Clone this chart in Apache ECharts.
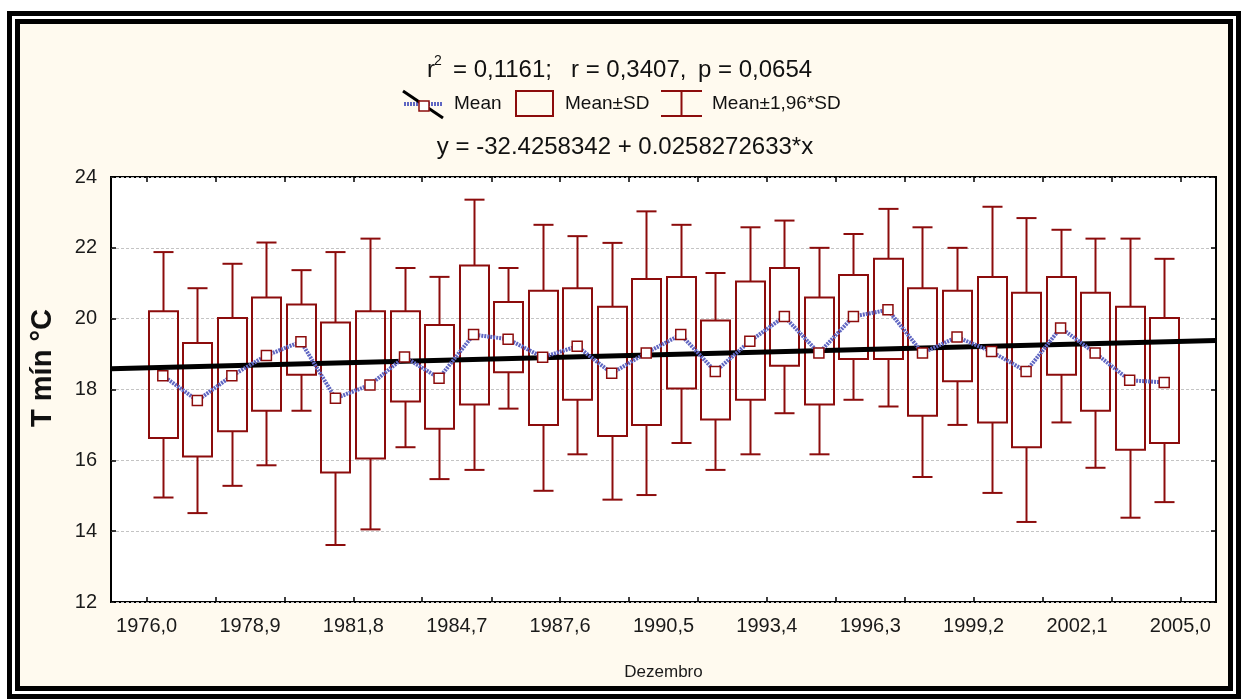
<!DOCTYPE html>
<html>
<head>
<meta charset="utf-8">
<script src="https://cdn.jsdelivr.net/npm/echarts@6/dist/echarts.min.js"></script>
<style>
  html, body { margin: 0; padding: 0; background: #fff; }
  #frame { position: absolute; left: 7px; top: 11px; width: 1234px; height: 688px; box-sizing: border-box; border: 5px solid #000; padding: 3px; background: #fff; }
  #inner { width: 100%; height: 100%; box-sizing: border-box; border: 5px solid #000; background: #fffaef; }
  #chart { position: absolute; left: 0; top: 0; width: 1243px; height: 700px; }
</style>
</head>
<body>
<div id="frame"><div id="inner"></div></div>
<div id="chart"></div>
<script>
// Dezembro, T mín por ano
const years = [1976, 1977, 1978, 1979, 1980, 1981, 1982, 1983, 1984, 1985,
  1986, 1987, 1988, 1989, 1990, 1991, 1992, 1993, 1994, 1995,
  1996, 1997, 1998, 1999, 2000, 2001, 2002, 2003, 2004, 2005];
// Mean+1,96*SD
const whiskerHigh = [21.88, 20.86, 21.55, 22.15, 21.37, 21.88, 22.26, 21.43, 21.18, 23.36,
  21.43, 22.65, 22.33, 22.14, 23.03, 22.65, 21.29, 22.58, 22.77, 22.00,
  22.39, 23.10, 22.58, 22.00, 23.16, 22.84, 22.51, 22.26, 22.26, 21.69];
// Mean+SD
const boxHigh = [20.21, 19.31, 20.02, 20.60, 20.40, 19.89, 20.21, 20.21, 19.82, 21.50,
  20.47, 20.79, 20.86, 20.34, 21.12, 21.18, 19.95, 21.05, 21.43, 20.60,
  21.23, 21.69, 20.86, 20.79, 21.18, 20.73, 21.18, 20.73, 20.34, 20.02];
// Mean
const means = [18.39, 17.69, 18.39, 18.96, 19.35, 17.75, 18.13, 18.92, 18.32, 19.55,
  19.42, 18.91, 19.22, 18.46, 19.03, 19.55, 18.51, 19.36, 20.06, 19.03,
  20.06, 20.25, 19.03, 19.48, 19.07, 18.51, 19.74, 19.03, 18.26, 18.20];
// Mean-SD
const boxLow = [16.63, 16.11, 16.82, 17.40, 18.42, 15.66, 16.05, 17.66, 16.89, 17.58,
  18.49, 17.00, 17.71, 16.69, 17.00, 18.03, 17.15, 17.71, 18.67, 17.58,
  18.86, 18.86, 17.26, 18.23, 17.07, 16.37, 18.42, 17.40, 16.30, 16.49];
// Mean-1,96*SD
const whiskerLow = [14.95, 14.51, 15.28, 15.86, 17.40, 13.61, 14.05, 16.37, 15.47, 15.73,
  17.46, 15.14, 16.17, 14.89, 15.02, 16.49, 15.73, 16.17, 17.33, 16.17,
  17.71, 17.52, 15.53, 17.00, 15.08, 14.26, 17.07, 15.79, 14.38, 14.82];

// eixo x numérico
const xLabelValues = [1976.0, 1978.9, 1981.8, 1984.7, 1987.6, 1990.5, 1993.4, 1996.3, 1999.2, 2002.1, 2005.0];
const xTickValues = [1976, 1977.93, 1979.87, 1981.8, 1983.73, 1985.67, 1987.6, 1989.53,
  1991.47, 1993.4, 1995.33, 1997.27, 1999.2, 2001.13, 2003.07, 2005];
const xMin = 1975, xMax = 2006;

// regressão y = a + b*x
const regIntercept = -32.4258342;
const regSlope = 0.0258272633;

const boxColor = "#8c0c0c";
const meanColor = "#5f66c2";
const sansFont = "'Liberation Sans', Arial, sans-serif";

// categorias para as caixas (uma vaga vazia em cada ponta)
const categories = ["", ...years.map(String), ""];
const boxData = years.map((y, i) => [i + 1, whiskerLow[i], boxLow[i], means[i], boxHigh[i], whiskerHigh[i]]);
const meanData = years.map((y, i) => [i + 1, means[i]]);
const regData = [xMin, xMax].map(x => [x, regIntercept + regSlope * x]);

const chart = echarts.init(document.getElementById("chart"));

/** desenha caixa + bigodes */
const renderBox = (params, api) => {
  const x = api.value(0);
  const band = api.size([1, 0])[0];
  const bw = band * 0.84;
  const cw = band * 0.58;
  const pWb = api.coord([x, api.value(1)]);
  const pBb = api.coord([x, api.value(2)]);
  const pBt = api.coord([x, api.value(4)]);
  const pWt = api.coord([x, api.value(5)]);
  const cx = Math.round(pWt[0]) + 0.5;
  const style = { stroke: boxColor, lineWidth: 2, fill: null };
  return {
    type: "group",
    children: [
      { type: "line", shape: { x1: cx, y1: pWt[1], x2: cx, y2: pBt[1] }, style },
      { type: "line", shape: { x1: cx, y1: pBb[1], x2: cx, y2: pWb[1] }, style },
      { type: "line", shape: { x1: cx - cw / 2, y1: pWt[1], x2: cx + cw / 2, y2: pWt[1] }, style },
      { type: "line", shape: { x1: cx - cw / 2, y1: pWb[1], x2: cx + cw / 2, y2: pWb[1] }, style },
      { type: "rect", shape: { x: cx - bw / 2, y: pBt[1], width: bw, height: pBb[1] - pBt[1] }, style }
    ]
  };
};

const txt = (x, y, text, size, extra) => ({
  type: "text", x, y,
  style: Object.assign({ text, fontSize: size, fontFamily: sansFont, fill: "#111", align: "left", verticalAlign: "middle" }, extra || {})
});

const option = {
  animation: false,
  backgroundColor: "transparent",
  grid: {
    left: 111, right: 27, top: 177, bottom: 98,
    show: true, backgroundColor: "#fff", borderColor: "#000", borderWidth: 2
  },
  xAxis: [
    {
      type: "value", min: xMin, max: xMax, position: "bottom",
      axisLine: { show: false },
      axisTick: { inside: true, length: 5, customValues: xTickValues, lineStyle: { color: "#000", width: 1.5 } },
      axisLabel: {
        customValues: xLabelValues, margin: 14, fontSize: 20, fontFamily: sansFont, color: "#1a1a1a",
        formatter: v => v.toFixed(1).replace(".", ",")
      },
      splitLine: { show: false },
      name: "Dezembro", nameLocation: "middle", nameGap: 62,
      nameTextStyle: { fontSize: 17, fontFamily: sansFont, color: "#1a1a1a", verticalAlign: "top" }
    },
    {
      type: "value", min: xMin, max: xMax, position: "top",
      axisLine: { show: false },
      axisTick: { inside: true, length: 5, customValues: xTickValues, lineStyle: { color: "#000", width: 1.5 } },
      axisLabel: { show: false },
      splitLine: { show: false }
    },
    {
      type: "category", data: categories, boundaryGap: true, show: false
    }
  ],
  yAxis: [
    {
      type: "value", min: 12, max: 24, interval: 2, position: "left",
      axisLine: { show: false },
      axisTick: { inside: true, length: 5, lineStyle: { color: "#000", width: 1.5 } },
      axisLabel: { margin: 14, fontSize: 20, fontFamily: sansFont, color: "#1a1a1a" },
      splitLine: { show: true, lineStyle: { color: "#c4c4c4", width: 1, type: [3, 2] } }
    },
    {
      type: "value", min: 12, max: 24, interval: 2, position: "right",
      axisLine: { show: false },
      axisTick: { inside: true, length: 5, lineStyle: { color: "#000", width: 1.5 } },
      axisLabel: { show: false },
      splitLine: { show: false }
    }
  ],
  series: [
    {
      name: "Mean±SD",
      type: "custom",
      xAxisIndex: 2,
      yAxisIndex: 0,
      renderItem: renderBox,
      encode: { x: 0, y: [1, 2, 3, 4, 5] },
      data: boxData,
      z: 2
    },
    {
      name: "Regressão",
      type: "line",
      xAxisIndex: 0,
      yAxisIndex: 0,
      data: regData,
      symbol: "none",
      lineStyle: { color: "#000", width: 5 },
      z: 3
    },
    {
      name: "Mean",
      type: "line",
      xAxisIndex: 2,
      yAxisIndex: 0,
      data: meanData,
      symbol: "rect",
      symbolSize: 10,
      itemStyle: { color: "#fff", borderColor: boxColor, borderWidth: 1.5 },
      lineStyle: { color: meanColor, width: 4, type: [2, 1] },
      z: 4
    }
  ],
  graphic: [
    // título
    txt(427, 70, "r", 24),
    txt(434, 61, "2", 14),
    txt(453, 70, "= 0,1161;", 24),
    txt(571, 70, "r = 0,3407,", 24),
    txt(698, 70, "p = 0,0654", 24),
    // legenda
    { type: "line", shape: { x1: 404, y1: 104, x2: 443, y2: 104 }, style: { stroke: meanColor, lineWidth: 4, lineDash: [2, 1] } },
    { type: "line", shape: { x1: 403, y1: 91, x2: 443, y2: 118 }, style: { stroke: "#000", lineWidth: 3 } },
    { type: "rect", shape: { x: 419, y: 101, width: 10, height: 10 }, style: { fill: "#fff", stroke: boxColor, lineWidth: 1.5 } },
    txt(454, 104, "Mean", 19),
    { type: "rect", shape: { x: 516, y: 91, width: 37, height: 25 }, style: { fill: null, stroke: boxColor, lineWidth: 2 } },
    txt(565, 104, "Mean±SD", 19),
    { type: "line", shape: { x1: 661, y1: 91, x2: 702, y2: 91 }, style: { stroke: boxColor, lineWidth: 2 } },
    { type: "line", shape: { x1: 661, y1: 116, x2: 702, y2: 116 }, style: { stroke: boxColor, lineWidth: 2 } },
    { type: "line", shape: { x1: 681.5, y1: 91, x2: 681.5, y2: 116 }, style: { stroke: boxColor, lineWidth: 2 } },
    txt(712, 104, "Mean±1,96*SD", 19),
    // equação
    txt(625, 147, "y = -32.4258342 + 0.0258272633*x", 24, { align: "center" }),
    // nome do eixo y
    {
      type: "text", x: 43, y: 368, rotation: Math.PI / 2,
      style: { text: "T mín °C", fontSize: 29, fontWeight: "bold", fontFamily: sansFont, fill: "#111", align: "center", verticalAlign: "middle" }
    }
  ]
};

chart.setOption(option);
</script>
</body>
</html>
